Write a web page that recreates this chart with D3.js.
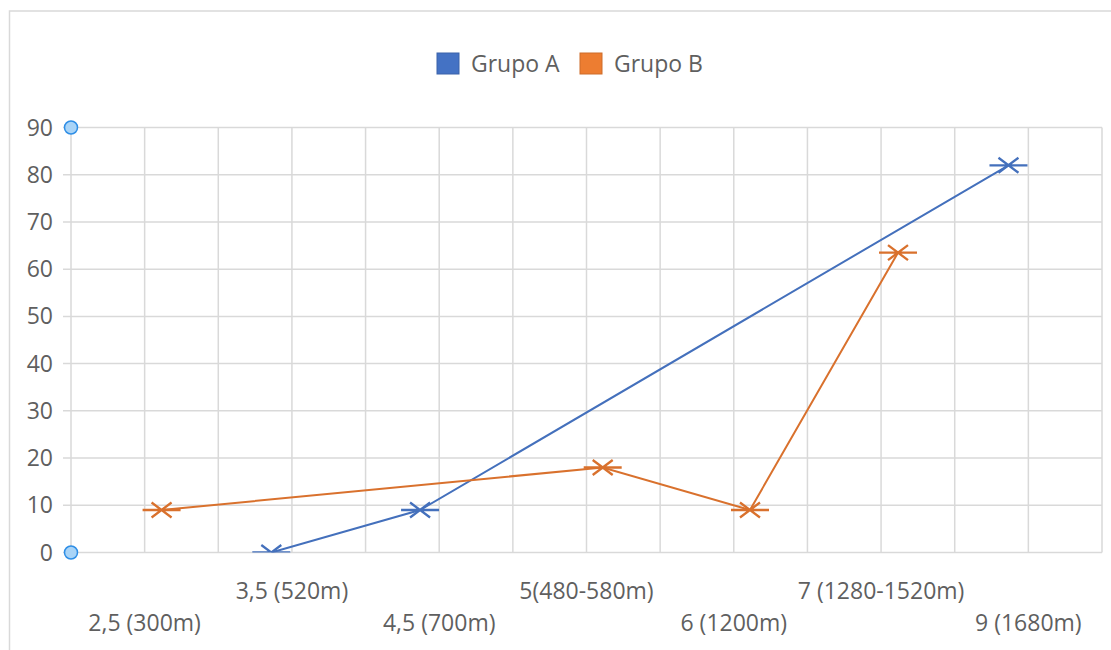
<!DOCTYPE html>
<html>
<head>
<meta charset="utf-8">
<script src="https://cdn.jsdelivr.net/npm/d3@7"></script>
<style>
  html, body { margin: 0; padding: 0; background: #fff; }
  svg { display: block; }
  text { font-family: "Open Sans", "Noto Sans", sans-serif; fill: #5f5f5f; }
</style>
</head>
<body>
<svg id="chart" width="1111" height="650"></svg>
<script>
// ---- data ----
const categories = ["2,5 (300m)", "3,5 (520m)", "4,5 (700m)", "5(480-580m)", "6 (1200m)", "7 (1280-1520m)", "9 (1680m)"];
const categoryIndex = [1, 3, 5, 7, 9, 11, 13];          // slot on the 0..14 axis
const seriesNames = ["Grupo A", "Grupo B"];
const grupoAX = [2.72, 4.74, 12.73];
const grupoAY = [0, 9, 82];
const grupoBX = [1.23, 7.22, 9.22, 11.23];
const grupoBY = [9, 18, 9, 63.5];
const yTicks = [0, 10, 20, 30, 40, 50, 60, 70, 80, 90];

const colors = { "Grupo A": "#4472C4", "Grupo B": "#ED7D31" };
const lineColors = { "Grupo A": "#4470BC", "Grupo B": "#D9712D" };

const svg = d3.select("#chart");
const x = d3.scaleLinear().domain([0, 14]).range([71, 1102]);
const y = d3.scaleLinear().domain([0, 90]).range([552.5, 127.5]);

// outer frame
svg.append("rect").attr("x", 9.5).attr("y", 11).attr("width", 1110).attr("height", 660)
  .attr("fill", "none").attr("stroke", "#d9d9d9").attr("stroke-width", 1.5);

// gridlines
const grid = svg.append("g");
grid.selectAll("line.h").data(yTicks).join("line")
  .attr("x1", 63).attr("x2", x(14)).attr("y1", d => y(d)).attr("y2", d => y(d))
  .attr("stroke", "#d9d9d9").attr("stroke-width", 1.5);
grid.selectAll("line.v").data(d3.range(0, 15)).join("line")
  .attr("x1", d => x(d)).attr("x2", d => x(d)).attr("y1", y(90)).attr("y2", y(0))
  .attr("stroke", "#d9d9d9").attr("stroke-width", 1.5);

// y axis labels
svg.append("g").selectAll("text").data(yTicks).join("text")
  .attr("x", 53).attr("y", d => y(d)).attr("dy", "0.35em")
  .attr("text-anchor", "end").style("font-size", "23px").text(d => d);

// x axis labels (staggered)
svg.append("g").selectAll("text").data(categories).join("text")
  .attr("x", (d, i) => x(categoryIndex[i]))
  .attr("y", (d, i) => i % 2 === 0 ? 623 : 591).attr("dy", "0.35em")
  .attr("text-anchor", "middle").style("font-size", "23px").text(d => d);

// clip for plot area
svg.append("clipPath").attr("id", "plotclip").append("rect")
  .attr("x", x(0)).attr("y", y(90) - 15).attr("width", x(14) - x(0) + 20).attr("height", y(0) - y(90) + 15);

const series = [
  { name: "Grupo A", pts: grupoAX.map((v, i) => [v, grupoAY[i]]) },
  { name: "Grupo B", pts: grupoBX.map((v, i) => [v, grupoBY[i]]) }
];

const line = d3.line().x(d => x(d[0])).y(d => y(d[1]));
const plot = svg.append("g").attr("clip-path", "url(#plotclip)");

const markerPath = "M-19,0L19,0M-10,-7.5L10,7.5M-10,7.5L10,-7.5";

series.forEach(s => {
  plot.append("path").datum(s.pts).attr("d", line)
    .attr("fill", "none").attr("stroke", lineColors[s.name]).attr("stroke-width", 2);
  plot.selectAll(null).data(s.pts).join("path")
    .attr("transform", d => `translate(${x(d[0])},${y(d[1])})`)
    .attr("d", markerPath).attr("fill", "none")
    .attr("stroke", lineColors[s.name]).attr("stroke-width", 2.3);
});

// selection handles on the value axis
svg.selectAll("circle.handle").data([90, 0]).join("circle")
  .attr("cx", x(0)).attr("cy", d => y(d)).attr("r", 6.5)
  .attr("fill", "#a9d4f7").attr("stroke", "#2e8ee6").attr("stroke-width", 1.5);

// legend
const legendX = [437, 580];
const lg = svg.append("g");
seriesNames.forEach((n, i) => {
  lg.append("rect").attr("x", legendX[i]).attr("y", 53).attr("width", 22).attr("height", 21)
    .attr("fill", colors[n]).attr("stroke", d3.color(colors[n]).darker(0.4)).attr("stroke-width", 1);
  lg.append("text").attr("x", legendX[i] + 34).attr("y", 64).attr("dy", "0.35em")
    .style("font-size", "23px").text(n);
});
</script>
</body>
</html>
